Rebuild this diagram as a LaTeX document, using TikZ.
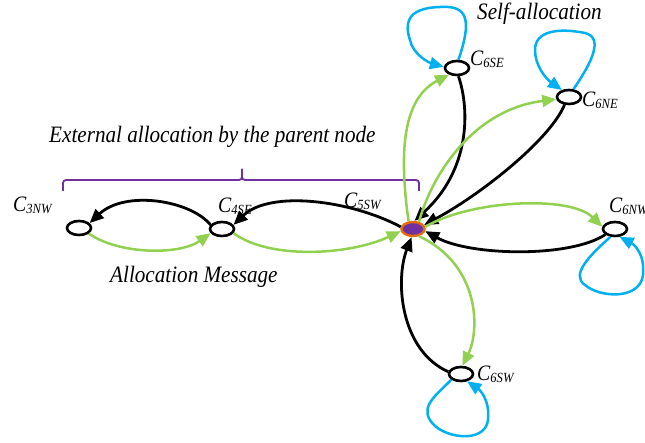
\documentclass[tikz,border=0pt]{standalone}
\usepackage{fontspec}
\setmainfont{Liberation Serif}
\newfontfamily\lblfont[FakeStretch=0.9]{Liberation Serif}
\usetikzlibrary{arrows.meta,shapes.geometric}
\definecolor{msggreen}{HTML}{92D050}
\definecolor{loopblue}{HTML}{00B0F0}
\definecolor{bracepurple}{HTML}{7030A0}
\definecolor{parentorange}{HTML}{E46C0A}
\newcommand\cellname[1]{C\raisebox{-1.5pt}{\fontsize{14}{14}\selectfont #1}}
\tikzset{
  cell/.style={draw=black, ellipse, line width=2.6pt, minimum width=24pt, minimum height=14pt, inner sep=0pt, fill=white},
  parent/.style={draw=parentorange, ellipse, line width=2.4pt, minimum width=23pt, minimum height=14pt, inner sep=0pt, fill=bracepurple},
  tip/.style={-{Triangle[length=14pt,width=12pt]}},
  reply/.style={tip, draw=black, line width=2.8pt},
  alloc/.style={tip, draw=msggreen, line width=2.5pt},
  selfloop/.style={tip, draw=loopblue, line width=2.5pt},
  lbl/.style={anchor=base west, inner sep=0pt, font=\lblfont\itshape\fontsize{23.5}{27}\selectfont},
  cname/.style={anchor=base west, inner sep=0pt, font=\lblfont\itshape\fontsize{22}{26}\selectfont},
}
\begin{document}
\begin{tikzpicture}[x=1pt,y=-1pt]
\useasboundingbox (0,0) rectangle (645,443);

% cells
\node[cell]   (c3)   at (79,228)  {};
\node[cell]   (c4)   at (222,229) {};
\node[parent] (c5)   at (413,229) {};
\node[cell]   (c6se) at (457,68)  {};
\node[cell]   (c6ne) at (569,97)  {};
\node[cell]   (c6nw) at (615,229) {};
\node[cell]   (c6sw) at (461,374) {};

% cell names
\node[cname] (l3)   at (13,212)  {\cellname{3NW}};
\node[cname] (l4)   at (218,213) {\cellname{4SE}};
\node[cname] (l5)   at (344,208) {\cellname{5SW}};
\node[cname] (l6se) at (470,66)  {\cellname{6SE}};
\node[cname] (l6ne) at (582,107) {\cellname{6NE}};
\node[cname] (l6nw) at (609,213) {\cellname{6NW}};
\node[cname] (l6sw) at (477,381) {\cellname{6SW}};

% captions
\node[lbl] (tself) at (477,20)  {Self-allocation};
\node[lbl] (text)  at (49,143)  {External allocation by the parent node};
\node[lbl] (tmsg)  at (110,283) {Allocation Message};

% brace over the chain
\draw[bracepurple, line width=1.8pt, rounded corners=3pt]
  (63,191) -- (63,180) -- (242,180) -- (242,169);
\draw[bracepurple, line width=1.8pt, rounded corners=3pt]
  (242,169) -- (242,180) -- (419,180) -- (419,191);

% chain C3 - C4 - C5
\draw[reply] (c4.160) .. controls (190,200) and (125,190) .. (c3.25);
\draw[alloc] (c3.-30) .. controls (120,255) and (180,255) .. (c4.200);
\draw[reply] (c5.170) .. controls (350,200) and (270,190) .. (c4.20);
\draw[alloc] (c4.-20) .. controls (270,260) and (350,255) .. (c5.190);

% parent to children
\draw[alloc] (c5.120) .. controls (400,160) and (400,100) .. (c6se.220);
\draw[reply] (c6se.-80) .. controls (470,110) and (470,170) .. (c5.80);
\draw[alloc] (c5.50) .. controls (430,180) and (470,110) .. (c6ne.190);
\draw[reply] (c6ne.-120) .. controls (550,140) and (480,195) .. (c5.20);
\draw[alloc] (c5.10) .. controls (470,200) and (570,195) .. (c6nw.170);
\draw[reply] (c6nw.-150) .. controls (570,258) and (470,256) .. (c5.-10);
\draw[alloc] (c5.-50) .. controls (480,265) and (480,330) .. (c6sw.80);
\draw[reply] (c6sw.170) .. controls (400,350) and (395,280) .. (c5.-100);

% self-allocation loops
\draw[selfloop] (c6se.80) .. controls (472,20) and (468,5) .. (440,7)
  .. controls (405,8) and (405,25) .. (410,40)
  .. controls (413,55) and (430,63) .. (c6se.175);
\draw[selfloop] (c6ne.60) .. controls (590,65) and (605,38) .. (585,33)
  .. controls (560,28) and (535,30) .. (535,50)
  .. controls (535,65) and (545,78) .. (c6ne.135);
\draw[selfloop] (c6nw.-120) .. controls (590,255) and (570,275) .. (585,285)
  .. controls (600,298) and (640,300) .. (643,275)
  .. controls (645,255) and (635,245) .. (c6nw.-60);
\draw[selfloop] (c6sw.-150) .. controls (440,392) and (420,405) .. (430,420)
  .. controls (440,438) and (485,445) .. (488,420)
  .. controls (490,400) and (480,390) .. (c6sw.-50);
\end{tikzpicture}
\end{document}
